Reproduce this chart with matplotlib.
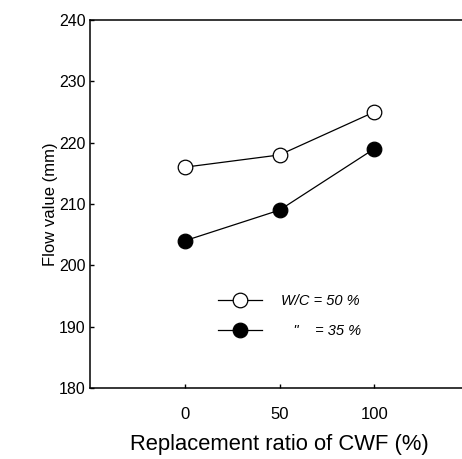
import matplotlib
matplotlib.use('Agg')
import matplotlib.pyplot as plt

# flow values for the two water/cement ratios
cwf_ratio = [0, 50, 100]
flow_wc50 = [216, 218, 225]
flow_wc35 = [204, 209, 219]
legend_labels = ['W/C = 50 %', '   "    = 35 %']

plt.rcParams['font.family'] = ['Liberation Sans', 'DejaVu Sans']

fig = plt.figure(figsize=(4.62, 4.59), dpi=100)
ax = fig.add_axes([90 / 462, 71 / 459, 379 / 462, 368 / 459])

ax.plot(cwf_ratio, flow_wc50, '-o', color='black', mfc='white', mec='black',
        ms=10.5, lw=0.9, mew=0.9, label=legend_labels[0])
ax.plot(cwf_ratio, flow_wc35, '-o', color='black', mfc='black', mec='black',
        ms=10.5, lw=0.9, mew=0.9, label=legend_labels[1])

ax.set_xlim(-50, 150)
ax.set_ylim(180, 240)
ax.set_xticks([0, 50, 100])
ax.set_yticks(range(180, 241, 10))
ax.tick_params(direction='in', length=3, width=1, top=False, right=False, labelsize=11.5)
ax.tick_params(axis='x', pad=14, labelsize=12)
ax.tick_params(axis='y', pad=3)
for sp in ax.spines.values():
    sp.set_linewidth(1.1)

ax.set_xlabel('Replacement ratio of CWF (%)', fontsize=15.8, labelpad=8)
ax.set_ylabel('Flow value (mm)', fontsize=12, labelpad=1)

leg = ax.legend(loc='center left', frameon=False,
                prop={'style': 'italic', 'size': 10.5}, handlelength=3.0,
                handletextpad=1.3, labelspacing=1.1, borderaxespad=0)
leg.set_bbox_to_anchor((212 / 462, (459 - 316) / 459), transform=fig.transFigure)

fig.savefig('out.png', dpi=100)
